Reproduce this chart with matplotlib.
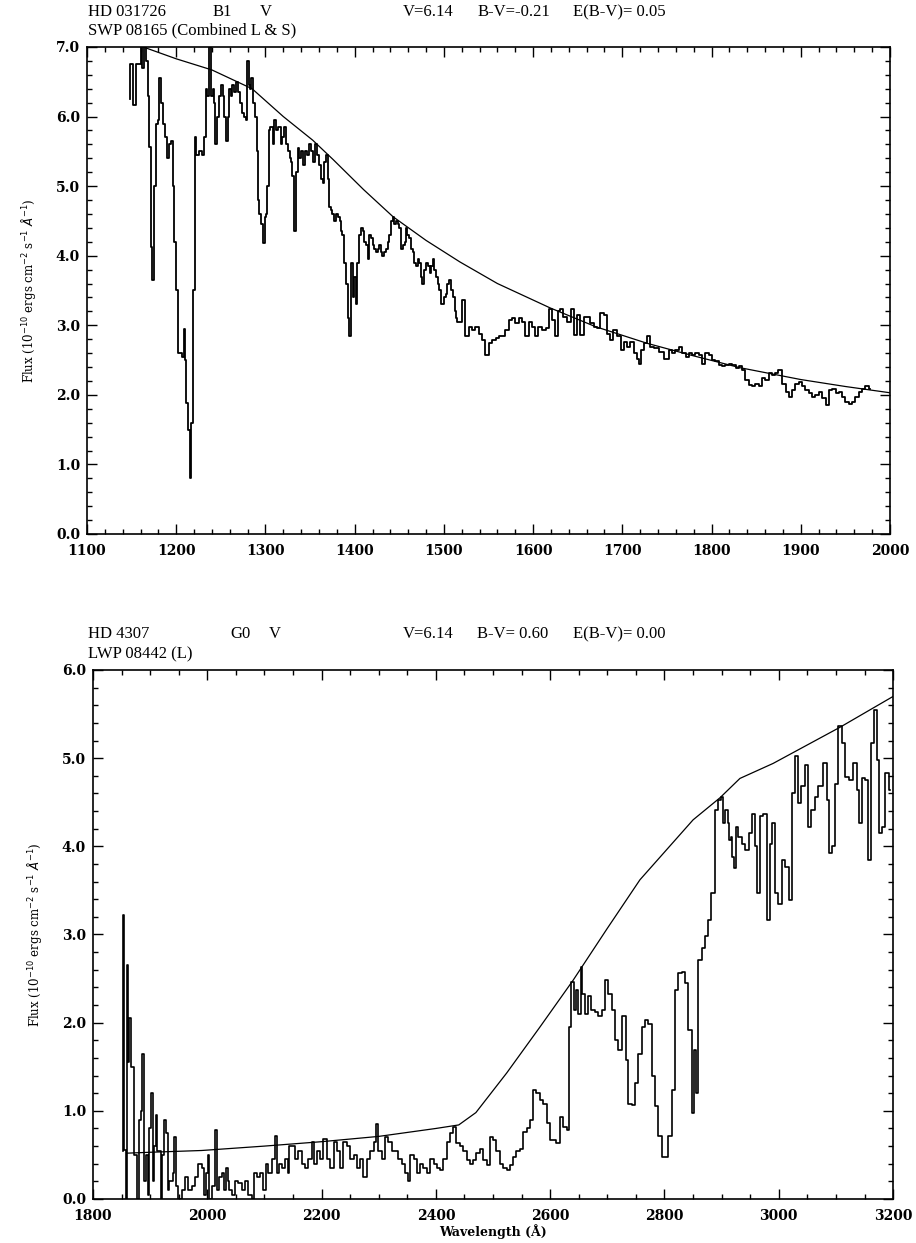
import matplotlib
matplotlib.use('Agg')
import matplotlib.pyplot as plt
from matplotlib.ticker import MultipleLocator

# ---- HD 031726 (SWP 08165) ----
swp_wave = [1148, 1149, 1154, 1156, 1159, 1161, 1163, 1165, 1167, 1169, 1171, 1172, 1174, 1176, 1178, 1180,
            1182, 1184, 1186, 1189, 1191, 1193, 1195, 1197, 1199, 1201, 1203, 1206, 1208, 1209, 1210, 1212,
            1214, 1216, 1218, 1220, 1221, 1223, 1227, 1230, 1232, 1234, 1236, 1238, 1240, 1242, 1243, 1245,
            1247, 1249, 1251, 1253, 1255, 1257, 1258, 1260, 1262, 1264, 1266, 1268, 1270, 1272, 1275, 1277,
            1279, 1280, 1282, 1283, 1285, 1287, 1289, 1291, 1292, 1294, 1296, 1298, 1300, 1301, 1303, 1304,
            1307, 1309, 1311, 1313, 1316, 1318, 1320, 1322, 1324, 1326, 1328, 1329, 1331, 1333, 1335, 1337,
            1339, 1341, 1343, 1346, 1348, 1350, 1352, 1354, 1356, 1359, 1361, 1363, 1365, 1367, 1369, 1371,
            1372, 1374, 1376, 1378, 1380, 1382, 1384, 1385, 1387, 1389, 1391, 1393, 1395, 1397, 1399, 1400,
            1402, 1404, 1406, 1408, 1410, 1412, 1414, 1415, 1417, 1419, 1421, 1423, 1425, 1427, 1428, 1430,
            1432, 1434, 1436, 1438, 1440, 1442, 1443, 1445, 1447, 1449, 1451, 1453, 1455, 1457, 1458, 1460,
            1462, 1464, 1466, 1468, 1470, 1472, 1473, 1475, 1477, 1479, 1481, 1483, 1485, 1487, 1488, 1490,
            1492, 1494, 1496, 1498, 1499, 1501, 1503, 1505, 1507, 1509, 1511, 1513, 1514, 1516, 1518,
            1522, 1526, 1530, 1533, 1537, 1541, 1545, 1548, 1552, 1556, 1560, 1563, 1567, 1571, 1574, 1578,
            1582, 1586, 1589, 1593, 1597, 1601, 1604, 1608, 1612, 1616, 1619, 1623, 1627, 1629, 1632, 1636,
            1640, 1644, 1647, 1651, 1655, 1659, 1662, 1666, 1670, 1674, 1677, 1681, 1685, 1688, 1692, 1696,
            1700, 1703, 1707, 1711, 1715, 1718, 1720, 1722, 1726, 1730, 1733, 1739, 1744, 1750, 1754, 1758,
            1761, 1765, 1769, 1773, 1776, 1780, 1784, 1787, 1791, 1795, 1799, 1802, 1806, 1810, 1814, 1817,
            1821, 1825, 1829, 1832, 1836, 1840, 1844, 1847, 1851, 1855, 1858, 1862, 1866, 1870, 1873, 1877,
            1881, 1885, 1888, 1892, 1896, 1900, 1903, 1907, 1911, 1915, 1918, 1922, 1926, 1930, 1933, 1937,
            1941, 1944, 1948, 1952, 1956, 1959, 1963, 1967, 1971, 1974, 1978]
swp_flux = [6.25, 6.75, 6.17, 6.75, 6.75, 7.0, 6.7, 7.0, 6.8, 6.3, 5.56, 4.12, 3.65, 5.0, 5.9, 5.95,
            6.55, 6.2, 5.9, 5.7, 5.4, 5.6, 5.65, 5.0, 4.2, 3.5, 2.6, 2.6, 2.55, 2.95, 2.5, 1.88,
            1.5, 0.8, 1.6, 3.5, 5.7, 5.45, 5.5, 5.45, 5.7, 6.4, 6.3, 7.0, 6.3, 6.4, 6.2, 5.6,
            6.0, 6.3, 6.45, 6.3, 6.0, 5.65, 6.0, 6.4, 6.3, 6.45, 6.35, 6.5, 6.35, 6.2, 6.05, 6.0,
            5.95, 6.8, 6.45, 6.4, 6.55, 6.2, 6.0, 5.5, 4.8, 4.6, 4.45, 4.18, 4.55, 4.6, 5.0, 5.8,
            5.85, 5.6, 5.95, 5.8, 5.85, 5.6, 5.7, 5.85, 5.6, 5.5, 5.4, 5.35, 5.15, 4.35, 5.2, 5.55,
            5.4, 5.5, 5.3, 5.5, 5.45, 5.6, 5.5, 5.35, 5.6, 5.45, 5.3, 5.1, 5.05, 5.35, 5.45, 5.1,
            4.7, 4.65, 4.6, 4.5, 4.6, 4.55, 4.5, 4.35, 4.3, 3.9, 3.6, 3.1, 2.85, 3.9, 3.4, 3.7,
            3.3, 3.9, 4.3, 4.4, 4.35, 4.2, 4.15, 3.95, 4.3, 4.25, 4.15, 4.1, 4.05, 4.1, 4.15, 4.05,
            4.0, 4.05, 4.1, 4.2, 4.3, 4.5, 4.55, 4.45, 4.5, 4.45, 4.4, 4.1, 4.15, 4.2, 4.4, 4.3,
            4.25, 4.1, 4.05, 3.9, 3.85, 3.95, 3.9, 3.7, 3.6, 3.8, 3.9, 3.85, 3.75, 3.85, 3.95, 3.8,
            3.7, 3.6, 3.5, 3.3, 3.3, 3.4, 3.45, 3.6, 3.65, 3.5, 3.4, 3.2, 3.1, 3.05, 3.05,
            3.36, 2.84, 2.98, 2.93, 2.98, 2.88, 2.79, 2.57, 2.74, 2.79, 2.81, 2.84, 2.84, 2.93, 3.07, 3.1,
            3.03, 3.1, 3.05, 2.84, 3.05, 2.98, 2.84, 2.98, 2.93, 2.96, 3.24, 3.07, 2.84, 3.2, 3.24, 3.12,
            3.05, 3.24, 2.86, 3.15, 2.86, 3.12, 3.12, 3.03, 2.98, 2.96, 3.17, 3.15, 2.88, 2.79, 2.93, 2.84,
            2.65, 2.76, 2.69, 2.76, 2.6, 2.52, 2.45, 2.65, 2.74, 2.84, 2.69, 2.67, 2.62, 2.52, 2.65, 2.6,
            2.65, 2.69, 2.6, 2.55, 2.6, 2.57, 2.6, 2.57, 2.45, 2.6, 2.57, 2.5, 2.48, 2.43, 2.41, 2.43,
            2.45, 2.43, 2.38, 2.41, 2.36, 2.21, 2.14, 2.12, 2.16, 2.12, 2.24, 2.21, 2.31, 2.29, 2.31, 2.36,
            2.16, 2.04, 1.97, 2.07, 2.16, 2.19, 2.12, 2.07, 2.02, 1.97, 2.0, 2.04, 1.95, 1.85, 2.07, 2.09,
            2.02, 2.04, 1.97, 1.9, 1.87, 1.9, 1.97, 2.04, 2.09, 2.12, 2.09]
swp_cont_wave = [1163, 1200, 1240, 1285, 1320, 1353, 1376, 1410, 1443, 1480, 1518, 1560, 1619, 1670,
                 1728, 1780, 1832, 1900, 1950, 2000]
swp_cont_flux = [7.0, 6.83, 6.67, 6.4, 6.0, 5.66, 5.38, 4.95, 4.56, 4.22, 3.91, 3.6, 3.25, 2.98,
                 2.74, 2.56, 2.39, 2.22, 2.12, 2.03]

# ---- HD 4307 (LWP 08442) ----
lwp_wave = [1852, 1853, 1854, 1856, 1858, 1860, 1862, 1865, 1868, 1871, 1874, 1876, 1879, 1882, 1885, 1888,
            1891, 1894, 1897, 1900, 1903, 1906, 1909, 1911, 1914, 1917, 1920, 1923, 1926, 1929, 1932, 1935,
            1938, 1941, 1944, 1946, 1952, 1958, 1964, 1970, 1976, 1981, 1987, 1993, 1996, 1999, 2002, 2005,
            2011, 2016, 2019, 2022, 2028, 2031, 2034, 2037, 2040, 2046, 2051, 2057, 2063, 2069, 2075, 2081,
            2084, 2089, 2095, 2101, 2104, 2110, 2116, 2121, 2124, 2127, 2133, 2139, 2142, 2145, 2151, 2156,
            2162, 2168, 2174, 2180, 2186, 2189, 2194, 2200, 2206, 2212, 2218, 2224, 2229, 2235, 2241, 2247,
            2253, 2259, 2264, 2270, 2276, 2282, 2288, 2294, 2296, 2302, 2308, 2314, 2320, 2326, 2331, 2337,
            2343, 2349, 2352, 2358, 2364, 2369, 2375, 2381, 2387, 2393, 2399, 2404, 2410, 2416, 2422, 2428,
            2433, 2439, 2445, 2451, 2457, 2462, 2468, 2474, 2480, 2486, 2492, 2497, 2503, 2509, 2515, 2521,
            2527, 2532, 2538, 2544, 2550, 2556, 2562, 2567, 2573, 2579, 2585, 2591, 2597, 2602, 2608, 2614,
            2620, 2626, 2632, 2634, 2640, 2643, 2646, 2652, 2655, 2658, 2664, 2669, 2675, 2681, 2687, 2693,
            2699, 2705, 2710, 2716, 2722, 2728, 2731, 2734, 2740, 2745, 2751, 2757, 2763, 2769, 2775, 2780,
            2786, 2792, 2798, 2804, 2810, 2815, 2821, 2827, 2833, 2839, 2845, 2850, 2853, 2856, 2862, 2868,
            2874, 2879, 2885, 2891, 2897, 2900, 2903, 2909, 2912, 2915, 2917, 2920, 2923, 2926, 2932, 2938,
            2944, 2950, 2955, 2961, 2964, 2970, 2976, 2982, 2987, 2990, 2996, 3002, 3008, 3014, 3020, 3025,
            3030, 3036, 3043, 3049, 3054, 3060, 3066, 3072, 3081, 3087, 3090, 3095, 3101, 3107, 3113, 3119,
            3127, 3133, 3139, 3142, 3148, 3154, 3159, 3165, 3169, 3174, 3177, 3183, 3189, 3195]
lwp_flux = [0.55, 3.22, 2.72, 0.56, 0.0, 2.65, 1.55, 2.05, 1.5, 1.5, 0.5, 0.5, 0.0, 0.9, 1.0, 1.65,
            0.2, 0.5, 0.05, 0.8, 1.2, 0.2, 0.6, 0.95, 0.55, 0.55, 0.0, 0.5, 0.9, 0.75, 0.1, 0.2,
            0.2, 0.3, 0.7, 0.15, 0.0, 0.1, 0.25, 0.1, 0.15, 0.25, 0.4, 0.35, 0.05, 0.3, 0.5, 0.0,
            0.15, 0.78, 0.1, 0.25, 0.3, 0.1, 0.35, 0.2, 0.1, 0.05, 0.2, 0.18, 0.1, 0.2, 0.05, 0.0,
            0.3, 0.25, 0.3, 0.1, 0.4, 0.3, 0.45, 0.72, 0.3, 0.4, 0.35, 0.45, 0.3, 0.6, 0.6, 0.45,
            0.55, 0.4, 0.35, 0.45, 0.65, 0.4, 0.55, 0.45, 0.68, 0.45, 0.35, 0.65, 0.55, 0.35, 0.65, 0.6,
            0.45, 0.5, 0.35, 0.45, 0.25, 0.45, 0.55, 0.65, 0.85, 0.55, 0.45, 0.7, 0.65, 0.55, 0.55, 0.45,
            0.4, 0.3, 0.2, 0.5, 0.45, 0.3, 0.4, 0.35, 0.3, 0.45, 0.4, 0.35, 0.33, 0.45, 0.65, 0.75,
            0.82, 0.63, 0.6, 0.55, 0.44, 0.4, 0.44, 0.52, 0.57, 0.44, 0.38, 0.7, 0.67, 0.55, 0.4, 0.35,
            0.33, 0.38, 0.48, 0.55, 0.57, 0.76, 0.8, 0.9, 1.24, 1.2, 1.12, 1.08, 0.86, 0.67, 0.67, 0.63,
            0.93, 0.82, 0.78, 1.95, 2.46, 2.14, 2.37, 2.1, 2.63, 2.33, 2.1, 2.3, 2.14, 2.12, 2.07, 2.14,
            2.48, 2.33, 2.14, 1.8, 1.69, 2.07, 2.07, 1.58, 1.08, 1.07, 1.31, 1.65, 1.95, 2.03, 1.99, 1.39,
            1.05, 0.71, 0.48, 0.48, 0.71, 1.24, 2.37, 2.56, 2.58, 2.45, 1.92, 0.97, 1.69, 1.2, 2.71, 2.85,
            2.98, 3.16, 3.47, 4.41, 4.53, 4.56, 4.26, 4.41, 4.26, 4.07, 4.11, 3.88, 3.75, 4.22, 4.11, 4.03,
            3.96, 4.15, 4.37, 4.0, 3.47, 4.34, 4.37, 3.16, 4.03, 4.26, 3.47, 3.35, 3.85, 3.77, 3.39, 4.6,
            5.02, 4.49, 4.68, 4.92, 4.22, 4.41, 4.56, 4.68, 4.94, 4.53, 3.92, 4.0, 4.71, 5.36, 5.17, 4.79,
            4.75, 4.94, 4.64, 4.26, 4.77, 4.75, 3.85, 5.17, 5.55, 4.98, 4.15, 4.22, 4.83, 4.64]
lwp_cont_wave = [1860, 1900, 1990, 2100, 2200, 2300, 2400, 2440, 2470, 2524, 2582, 2640, 2700, 2757,
                 2850, 2897, 2932, 2990, 3107, 3200]
lwp_cont_flux = [0.52, 0.53, 0.55, 0.6, 0.65, 0.71, 0.8, 0.84, 0.98, 1.43, 1.95, 2.48, 3.07, 3.62,
                 4.3, 4.55, 4.77, 4.94, 5.35, 5.7]

ylabel = r'Flux (10$^{-10}$ ergs cm$^{-2}$ s$^{-1}$ $\AA^{-1}$)'
tick_font = {'family': 'DejaVu Serif', 'weight': 'bold', 'size': 10}
head_font = {'family': 'Liberation Serif', 'size': 12}

fig = plt.figure(figsize=(9.16, 12.43), dpi=100)
ax1 = fig.add_axes([0.095, 0.5704, 0.8766, 0.3918])
ax2 = fig.add_axes([0.1015, 0.0354, 0.8735, 0.4256])


def style_axes(ax, xmaj, xmin):
    ax.xaxis.set_major_locator(MultipleLocator(xmaj))
    ax.xaxis.set_minor_locator(MultipleLocator(xmin))
    ax.yaxis.set_major_locator(MultipleLocator(1.0))
    ax.yaxis.set_minor_locator(MultipleLocator(0.2))
    ax.yaxis.set_major_formatter(plt.FormatStrFormatter('%.1f'))
    ax.tick_params(which='both', direction='in', top=True, right=True, width=1.0, color='black')
    ax.tick_params(which='major', length=7)
    ax.tick_params(which='minor', length=3.5)
    ax.tick_params(axis='x', which='major', pad=7)
    ax.tick_params(axis='y', which='major', pad=5)
    for lab in ax.get_xticklabels() + ax.get_yticklabels():
        lab.set_fontfamily(tick_font['family'])
        lab.set_fontweight(tick_font['weight'])
        lab.set_fontsize(tick_font['size'])
    for sp in ax.spines.values():
        sp.set_linewidth(1.2)
    ax.set_ylabel(ylabel, fontsize=8.5, family='DejaVu Serif', labelpad=13)


# top panel
ax1.plot(swp_wave, swp_flux, drawstyle='steps-mid', color='black', lw=1.3)
ax1.plot(swp_cont_wave, swp_cont_flux, color='black', lw=0.9)
ax1.set_xlim(1100, 2000)
ax1.set_ylim(0, 7)
style_axes(ax1, 100, 20)

# bottom panel
ax2.plot(lwp_wave, lwp_flux, drawstyle='steps-mid', color='black', lw=1.2)
ax2.plot(lwp_cont_wave, lwp_cont_flux, color='black', lw=0.9)
ax2.set_xlim(1800, 3200)
ax2.set_ylim(0, 6)
style_axes(ax2, 200, 50)
ax2.set_xlabel('Wavelength (Å)', fontsize=9, family='DejaVu Serif', fontweight='bold', labelpad=1)

# header text
fig.text(0.096, 0.9903, 'HD 031726', va='center', **head_font)
fig.text(0.232, 0.9903, 'B1', va='center', **head_font)
fig.text(0.284, 0.9903, 'V', va='center', **head_font)
fig.text(0.440, 0.9903, 'V=6.14', va='center', **head_font)
fig.text(0.521, 0.9903, 'B-V=-0.21', va='center', **head_font)
fig.text(0.626, 0.9903, 'E(B-V)= 0.05', va='center', **head_font)
fig.text(0.096, 0.9759, 'SWP 08165 (Combined L & S)', va='center', **head_font)

fig.text(0.096, 0.4900, 'HD 4307', va='center', **head_font)
fig.text(0.251, 0.4900, 'G0', va='center', **head_font)
fig.text(0.293, 0.4900, 'V', va='center', **head_font)
fig.text(0.440, 0.4900, 'V=6.14', va='center', **head_font)
fig.text(0.521, 0.4900, 'B-V= 0.60', va='center', **head_font)
fig.text(0.626, 0.4900, 'E(B-V)= 0.00', va='center', **head_font)
fig.text(0.096, 0.4738, 'LWP 08442 (L)', va='center', **head_font)

fig.savefig('out.png', dpi=100)
